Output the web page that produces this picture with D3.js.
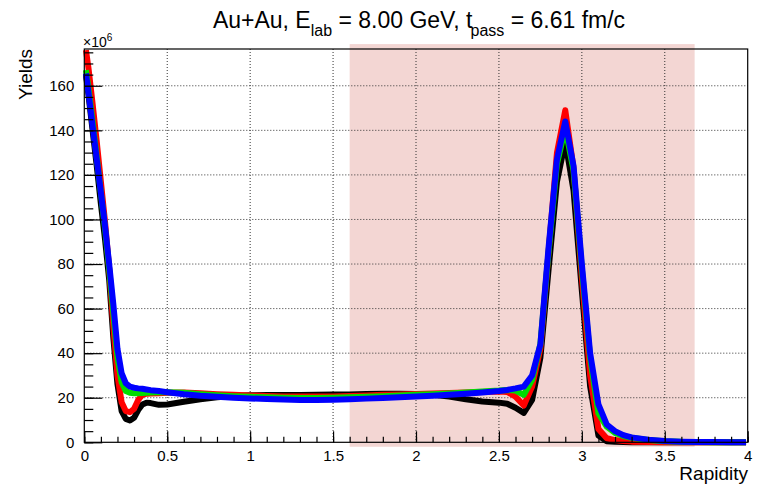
<!DOCTYPE html>
<html>
<head>
<meta charset="utf-8">
<script src="https://cdn.jsdelivr.net/npm/d3@7"></script>
<style>
  body { margin: 0; background: #fff; }
  svg { font-family: "Liberation Sans", Arial, sans-serif; }
</style>
</head>
<body>
<div id="chart"></div>
<script>
// rapidity points (shared by all curves)
var rapidity = [0.01, 0.025, 0.05, 0.075, 0.1, 0.125, 0.15, 0.175, 0.2, 0.225, 0.25, 0.275, 0.3, 0.325, 0.35, 0.375, 0.4, 0.45, 0.5,
  0.6, 0.7, 0.8, 0.9, 1.0, 1.1, 1.2, 1.3, 1.4, 1.5, 1.6, 1.7, 1.8, 1.9, 2.0, 2.1, 2.2, 2.3, 2.4, 2.5,
  2.55, 2.6, 2.65, 2.7, 2.75, 2.8, 2.85, 2.9, 2.95, 3.0, 3.05, 3.1, 3.15, 3.2, 3.25, 3.3,
  3.4, 3.5, 3.6, 3.7, 3.8, 3.9, 3.99];

// yields in units of 10^6
var yieldBlack = [165, 156, 140, 124, 107, 91, 73, 47, 26, 14, 10.5, 9.8, 11, 14.5, 17, 17.8, 17.6, 16.8, 17,
  18.2, 19.3, 20.2, 20.8, 21.1, 21.2, 21.2, 21.2, 21.3, 21.4, 21.5, 21.7, 21.8, 21.8, 21.7, 21.3, 20.5, 19.3, 18.3, 17.8,
  17.3, 15.5, 13.2, 19, 38, 78, 117, 135, 113, 68, 25, 3, 0.5, 0.2, 0.1, 0.05,
  0, 0, 0, 0, 0, 0, 0];
var yieldRed = [176, 168, 152, 135, 117, 99, 78, 52, 30, 18, 14, 13.5, 15, 19, 21.3, 21.8, 21.9, 22, 22.2,
  22.3, 22, 21.6, 21.3, 21, 20.8, 20.6, 20.5, 20.5, 20.6, 20.8, 21, 21.3, 21.5, 21.7, 21.9, 22.1, 22.3, 22.6, 22.8,
  22.6, 20.5, 16.5, 25, 42, 86, 130, 149, 123, 74, 30, 6, 1.8, 1, 0.6, 0.3,
  0.1, 0, 0, 0, 0, 0, 0];
var yieldGreen = [167, 159, 144, 128, 112, 96, 78, 58, 38, 27, 23, 22.2, 22, 22, 22.1, 22.2, 22.3, 22.5, 22.5,
  22.2, 21.6, 21.1, 20.7, 20.4, 20.2, 20, 19.9, 19.9, 20, 20.2, 20.4, 20.7, 21, 21.3, 21.6, 21.9, 22.3, 22.8, 23.2,
  23.5, 23.2, 21.3, 28, 44, 86, 125, 141, 122, 78, 38, 13, 7, 4.2, 2.8, 2,
  1, 0.5, 0.2, 0.1, 0.05, 0, 0];
var yieldBlue = [165.5, 157, 142, 127, 112, 97, 80, 62, 42, 31, 26.5, 25, 24.5, 24.2, 24, 23.7, 23.4, 23, 22.5,
  21.6, 20.9, 20.4, 20, 19.7, 19.4, 19.2, 19, 19, 19.1, 19.3, 19.6, 19.9, 20.2, 20.5, 20.9, 21.3, 21.8, 22.4, 23,
  23.5, 24.2, 25, 30, 44, 88, 127, 144, 124, 80, 40, 17, 8, 5, 3.2, 2.2,
  1.2, 0.6, 0.3, 0.15, 0.1, 0.05, 0.05];

var seriesList = [yieldBlack, yieldRed, yieldGreen, yieldBlue];
var seriesColors = ["#000000", "#ff0000", "#00dd00", "#0000ff"];

// shaded band (rapidity range) and its vertical extent
var shadeX = [1.6, 3.68];
var shadeY = [-2, 178.7];

var xTicks = [0, 0.5, 1, 1.5, 2, 2.5, 3, 3.5, 4];
var yTicks = [0, 20, 40, 60, 80, 100, 120, 140, 160];

var W = 760, H = 490;
var margin = {top: 49, right: 12.3, bottom: 47.7, left: 84.3};
var width = W - margin.left - margin.right,
    height = H - margin.top - margin.bottom;

var svg = d3.select("#chart").append("svg")
    .attr("width", W)
    .attr("height", H);

var g = svg.append("g")
    .attr("transform", "translate(" + margin.left + "," + margin.top + ")");

var x = d3.scaleLinear().domain([0, 4]).range([0, width]);
var y = d3.scaleLinear().domain([0, 176.5]).range([height, 0]);

// shaded region
g.append("rect")
    .attr("x", x(shadeX[0]))
    .attr("y", y(shadeY[1]))
    .attr("width", x(shadeX[1]) - x(shadeX[0]))
    .attr("height", y(shadeY[0]) - y(shadeY[1]))
    .attr("fill", "#f3d6d3");

// dotted grid
g.selectAll(".gx").data(xTicks.slice(1, -1)).enter().append("line")
    .attr("x1", function(d) { return x(d); })
    .attr("x2", function(d) { return x(d); })
    .attr("y1", 0).attr("y2", height)
    .attr("stroke", "#333").attr("stroke-width", 1)
    .attr("stroke-dasharray", "1,2");
g.selectAll(".gy").data(yTicks.slice(1)).enter().append("line")
    .attr("y1", function(d) { return y(d); })
    .attr("y2", function(d) { return y(d); })
    .attr("x1", 0).attr("x2", width)
    .attr("stroke", "#333").attr("stroke-width", 1)
    .attr("stroke-dasharray", "1,2");

// curves
var line = d3.line()
    .x(function(d, i) { return x(rapidity[i]); })
    .y(function(d) { return y(d); });

seriesList.forEach(function(s, k) {
  g.append("path")
    .datum(s)
    .attr("d", line)
    .attr("fill", "none")
    .attr("stroke", seriesColors[k])
    .attr("stroke-width", 6)
    .attr("stroke-linejoin", "round");
});

// frame
g.append("rect")
    .attr("width", width).attr("height", height)
    .attr("fill", "none").attr("stroke", "#000").attr("stroke-width", 1.2);

// minor ticks
var xMinor = d3.range(0, 4.001, 0.1);
var yMinor = d3.range(0, 176, 5);
g.append("g")
    .attr("transform", "translate(0," + height + ")")
    .call(d3.axisBottom(x).tickValues(xMinor).tickSize(-5.5).tickFormat(""))
    .call(function(a) { a.select(".domain").remove(); });
g.append("g")
    .call(d3.axisLeft(y).tickValues(yMinor).tickSize(-9).tickFormat(""))
    .call(function(a) { a.select(".domain").remove(); });

// major ticks + labels
var xAxis = g.append("g")
    .attr("transform", "translate(0," + height + ")")
    .call(d3.axisBottom(x).tickValues(xTicks).tickSize(-11).tickPadding(8)
      .tickFormat(function(d) { return d3.format("~g")(d); }));
var yAxis = g.append("g")
    .call(d3.axisLeft(y).tickValues(yTicks).tickSize(-18).tickPadding(10));
[xAxis, yAxis].forEach(function(a) {
  a.select(".domain").remove();
  a.selectAll("text").attr("font-size", 15).attr("fill", "#000")
    .attr("font-family", "Liberation Sans, Arial, sans-serif");
});
g.selectAll(".tick line").attr("stroke", "#000").attr("stroke-width", 1.2);

// title
var title = svg.append("text")
    .attr("x", 419).attr("y", 28)
    .attr("text-anchor", "middle")
    .attr("font-size", 23);
title.append("tspan").text("Au+Au, E");
title.append("tspan").attr("font-size", 16).attr("dy", 8).text("lab");
title.append("tspan").attr("dy", -8).text(" = 8.00 GeV, t");
title.append("tspan").attr("font-size", 16).attr("dy", 8).attr("dx", -2).text("pass");
title.append("tspan").attr("dy", -8).text(" = 6.61 fm/c");

// axis titles
svg.append("text")
    .attr("transform", "translate(32,49) rotate(-90)")
    .attr("text-anchor", "end")
    .attr("font-size", 19)
    .text("Yields");
svg.append("text")
    .attr("x", 748).attr("y", 480)
    .attr("text-anchor", "end")
    .attr("font-size", 19)
    .text("Rapidity");

// exponent
var expo = svg.append("text")
    .attr("x", 83).attr("y", 47)
    .attr("font-size", 14);
expo.append("tspan").text("\u00d710");
expo.append("tspan").attr("font-size", 10).attr("dy", -6).text("6");
</script>
</body>
</html>
